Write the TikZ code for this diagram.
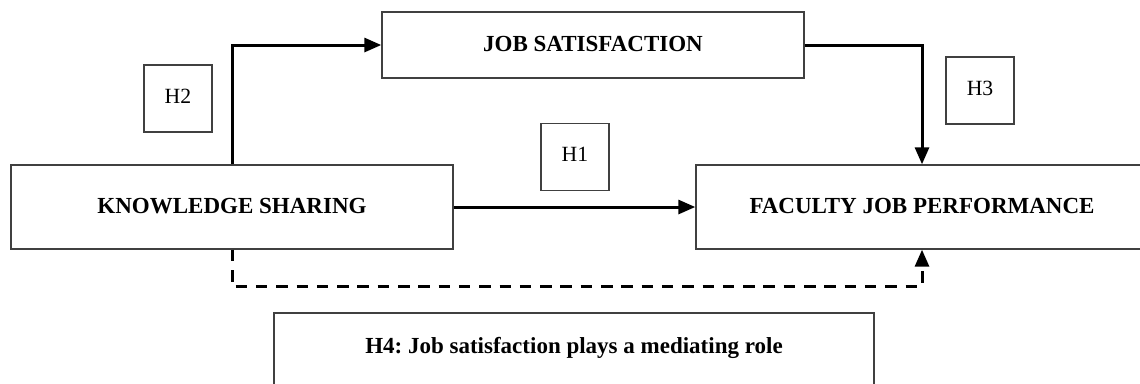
\documentclass[tikz,border=0pt]{standalone}
\usepackage{fontspec}
\setmainfont{Liberation Serif}
\usetikzlibrary{arrows.meta,positioning}
\begin{document}
\begin{tikzpicture}[x=1pt,y=-1pt,
  box/.style={draw=black!75, line width=1.4pt, inner sep=0pt, text depth=0.3em,
    font=\fontsize{23}{27}\selectfont\bfseries},
  hbox/.style={draw=black!75, line width=1.4pt, inner sep=0pt, text depth=0.45em,
    minimum width=68pt, minimum height=67pt, font=\fontsize{21.7}{26}\selectfont},
  link/.style={line width=3pt, -{Triangle[length=17pt,width=14pt]}}]
\useasboundingbox (0,0) rectangle (1140,383);
\clip (0,0) rectangle (1140,383);
% main constructs
\node [box, minimum width=442pt, minimum height=84pt] (ks) at (232,207) {KNOWLEDGE SHARING};
\node [box, minimum width=422pt, minimum height=66pt] (js) at (593,45) {JOB SATISFACTION};
\node [box, minimum width=452pt, minimum height=84pt] (fjp) at (922,207) {FACULTY JOB PERFORMANCE};
\node [box, minimum width=600pt, minimum height=90pt, text depth=26pt] (h4) at (574,358)
  {\frenchspacing H4: Job satisfaction plays a mediating role};
% hypothesis labels
\node [hbox] (h2) at (178,98.5) {H2};
\node [hbox] (h1) at (575,157) {H1};
\node [hbox] (h3) at (980,90.5) {H3};
% paths
\draw [link] (ks.north) |- (js.west);
\draw [link] (js.east) -| (fjp.north);
\draw [link] (ks.east) -- (fjp.west);
\draw [link, dash pattern=on 11.5pt off 8.8pt] (ks.south) -- ++(0,37) -| (fjp.south);
\end{tikzpicture}
\end{document}
